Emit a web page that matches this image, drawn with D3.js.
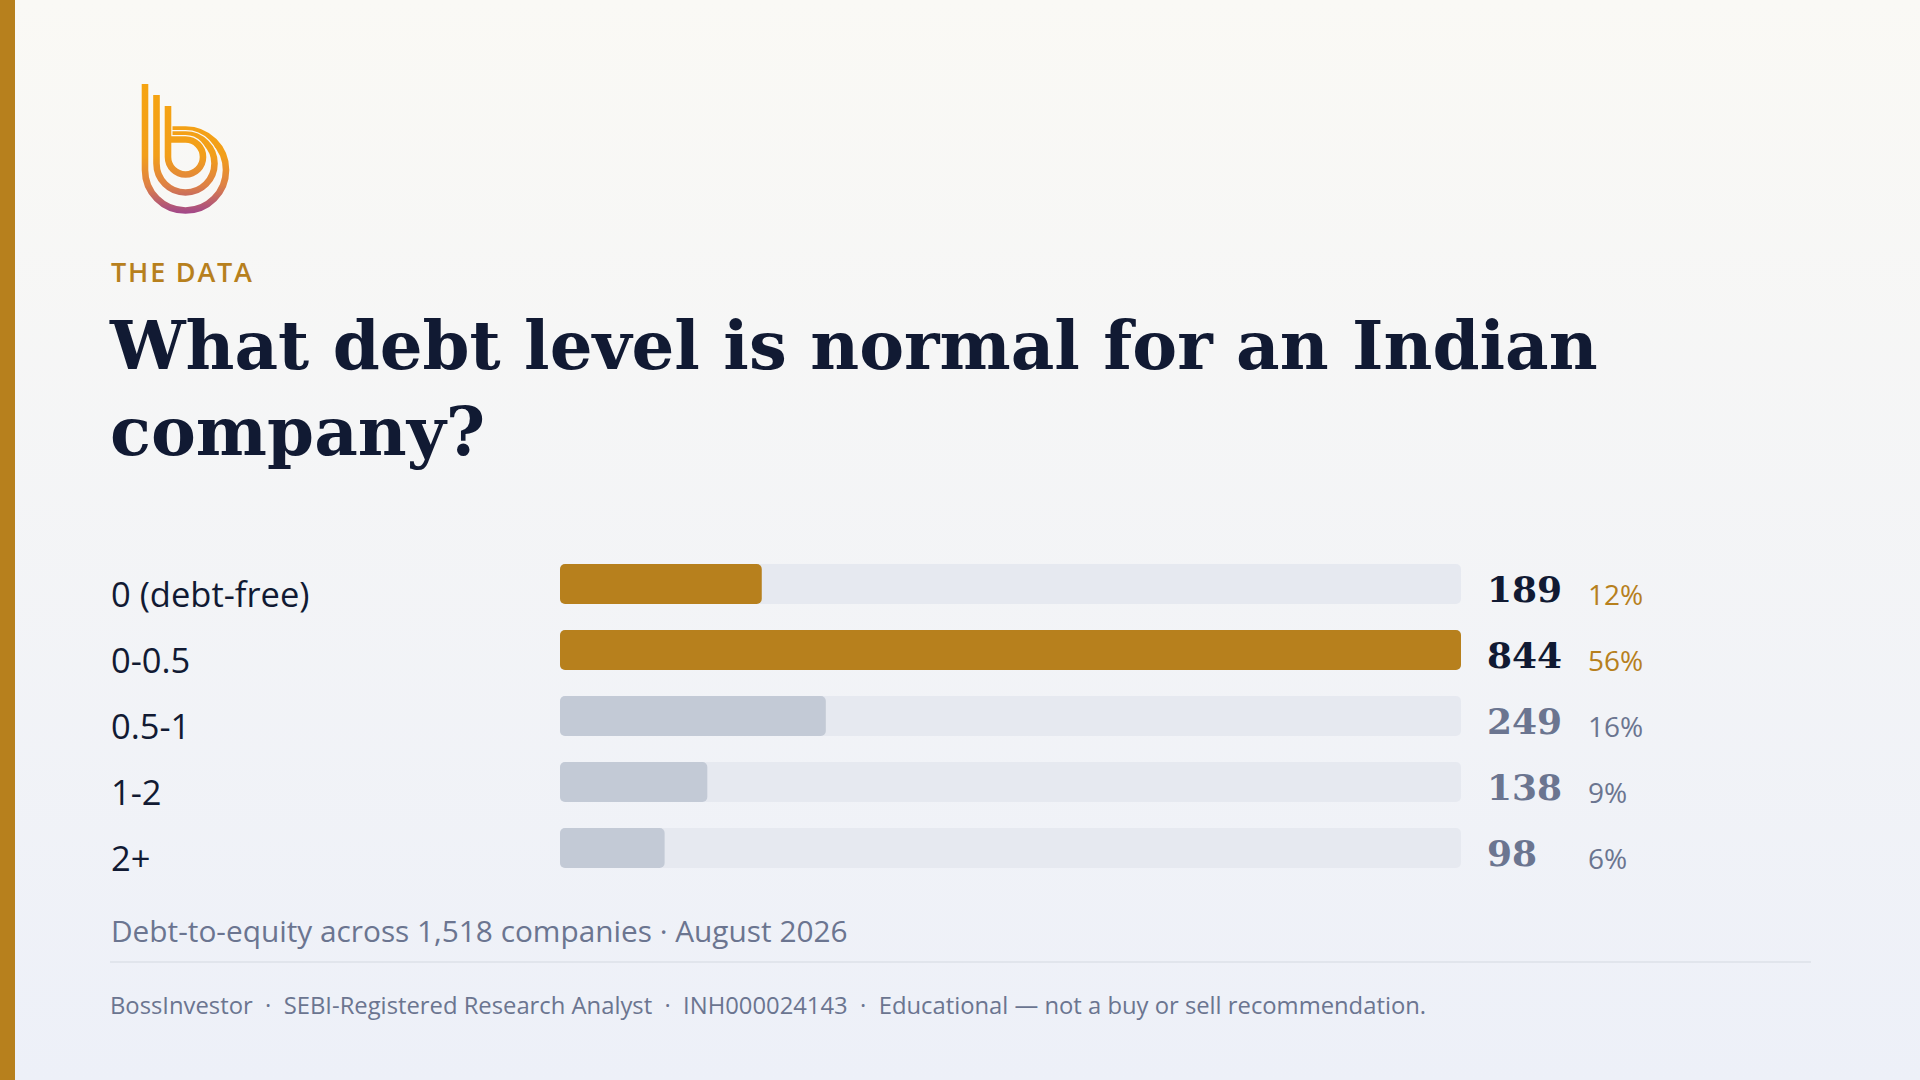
<!DOCTYPE html>
<html>
<head>
<meta charset="utf-8">
<script src="https://cdn.jsdelivr.net/npm/d3@7"></script>
<style>
  html, body { margin: 0; padding: 0; width: 1920px; height: 1080px; overflow: hidden; }
  svg { display: block; }
</style>
</head>
<body>
<svg id="chart" width="1920" height="1080"></svg>
<script>
// ---- data ----
const categories = ["0 (debt-free)", "0-0.5", "0.5-1", "1-2", "2+"];
const counts = [189, 844, 249, 138, 98];
const percentLabels = ["12%", "56%", "16%", "9%", "6%"];
const highlighted = [true, true, false, false, false];
const kicker = "THE DATA";
const titleLines = ["What debt level is normal for an Indian", "company?"];
const subtitle = "Debt-to-equity across 1,518 companies \u00b7 August 2026";
const footerParts = ["BossInvestor", "SEBI-Registered Research Analyst", "INH000024143", "Educational \u2014 not a buy or sell recommendation."];

// ---- style ----
const GOLD = "#B7801D", NAVY = "#111A33", SLATE = "#6B7590";
const TRACK = "#E6E9F0", MUTED = "#C3CAD6";
const SANS = "'Open Sans', 'Noto Sans', sans-serif";
const SERIF = "Georgia, 'DejaVu Serif', serif";

const svg = d3.select("#chart");
const defs = svg.append("defs");

const bg = defs.append("linearGradient").attr("id", "bg").attr("x1", 0).attr("y1", 0).attr("x2", 0).attr("y2", 1);
bg.append("stop").attr("offset", "0%").attr("stop-color", "#FAF9F5");
bg.append("stop").attr("offset", "100%").attr("stop-color", "#EDF0F8");
svg.append("rect").attr("width", 1920).attr("height", 1080).attr("fill", "url(#bg)");
svg.append("rect").attr("x", 0).attr("y", 0).attr("width", 15).attr("height", 1080).attr("fill", GOLD);

// ---- logo ----
const lg = defs.append("linearGradient").attr("id", "logoGrad").attr("gradientUnits", "userSpaceOnUse")
  .attr("x1", 0).attr("y1", 84).attr("x2", 0).attr("y2", 214);
lg.append("stop").attr("offset", "0%").attr("stop-color", "#F6A411");
lg.append("stop").attr("offset", "55%").attr("stop-color", "#F29F1A");
lg.append("stop").attr("offset", "78%").attr("stop-color", "#DE8145");
lg.append("stop").attr("offset", "100%").attr("stop-color", "#A0468C");
const logo = svg.append("g");
const strokesDef = [
  { xv: 145, top: 84, cx: 185.5, cy: 170, r: 40.5 },
  { xv: 156.5, top: 95, cx: 185.5, cy: 163.5, r: 29 },
  { xv: 168, top: 106, cx: 185.5, cy: 157, r: 17.5 }
];
strokesDef.forEach(s => {
  const p = d3.path();
  p.moveTo(s.xv, s.top);
  p.lineTo(s.xv, s.cy);
  p.arc(s.cx, s.cy, s.r, Math.PI, 0, true);
  p.arc(s.cx, s.cy, s.r, 0, -Math.PI / 2, true);
  p.lineTo(168, s.cy - s.r);
  const d = p.toString();
  logo.append("path").attr("d", d).attr("fill", "none").attr("stroke", "#FAF9F5").attr("stroke-width", 9);
  logo.append("path").attr("d", d).attr("fill", "none").attr("stroke", "url(#logoGrad)").attr("stroke-width", 6.6);
});

// ---- header text ----
svg.append("text").attr("x", 111).attr("y", 282).text(kicker)
  .attr("font-family", SANS).attr("font-weight", 600).attr("font-size", 27)
  .attr("letter-spacing", 1.8).attr("fill", GOLD);

const titleG = svg.append("g").attr("font-family", SERIF).attr("font-weight", 700).attr("fill", NAVY);
const t1 = titleG.append("text").attr("x", 110).attr("y", 369).attr("font-size", 72).text(titleLines[0]);
const w1 = t1.node().getComputedTextLength();
const fs = 72 * 1488 / w1;
t1.attr("font-size", fs);
titleG.append("text").attr("x", 110).attr("y", 455).attr("font-size", fs).text(titleLines[1]);

// ---- bars ----
const y = d3.scaleBand().domain(categories).range([551, 881]).paddingInner(26 / 66).paddingOuter(13 / 66);
const x = d3.scaleLinear().domain([0, d3.max(counts)]).range([560, 1461]);
const rows = categories.map((c, i) => ({ cat: c, n: counts[i], pct: percentLabels[i], hi: highlighted[i] }));

const g = svg.append("g");
const row = g.selectAll("g.row").data(rows).join("g").attr("class", "row");
row.append("rect").attr("x", x(0)).attr("y", d => y(d.cat)).attr("width", x.range()[1] - x(0))
  .attr("height", y.bandwidth()).attr("rx", 5).attr("fill", TRACK);
row.append("rect").attr("x", x(0)).attr("y", d => y(d.cat)).attr("width", d => x(d.n) - x(0))
  .attr("height", y.bandwidth()).attr("rx", 5).attr("fill", d => d.hi ? GOLD : MUTED);
row.append("text").attr("x", 111).attr("y", d => y(d.cat) + y.bandwidth() / 2 + 23)
  .attr("font-family", SANS).attr("font-size", 34.5).attr("fill", NAVY).text(d => d.cat);
row.append("text").attr("x", 1487).attr("y", d => y(d.cat) + y.bandwidth() / 2 + 18)
  .attr("font-family", SERIF).attr("font-weight", 700).attr("font-size", 36)
  .attr("fill", d => d.hi ? NAVY : SLATE).text(d => d3.format("d")(d.n));
row.append("text").attr("x", 1588).attr("y", d => y(d.cat) + y.bandwidth() / 2 + 21)
  .attr("font-family", SANS).attr("font-size", 28)
  .attr("fill", d => d.hi ? GOLD : SLATE).text(d => d.pct);

// ---- subtitle, divider, footer ----
svg.append("text").attr("x", 111).attr("y", 942).text(subtitle)
  .attr("font-family", SANS).attr("font-size", 29.8).attr("fill", SLATE);
svg.append("line").attr("x1", 110).attr("x2", 1811).attr("y1", 962).attr("y2", 962)
  .attr("stroke", "#DCE0E8").attr("stroke-width", 1.5);
svg.append("text").attr("x", 110).attr("y", 1014).attr("xml:space", "preserve").style("white-space", "pre")
  .attr("font-family", SANS).attr("font-size", 23.8).attr("fill", SLATE)
  .text(footerParts.join("  \u00b7  "));
</script>
</body>
</html>
